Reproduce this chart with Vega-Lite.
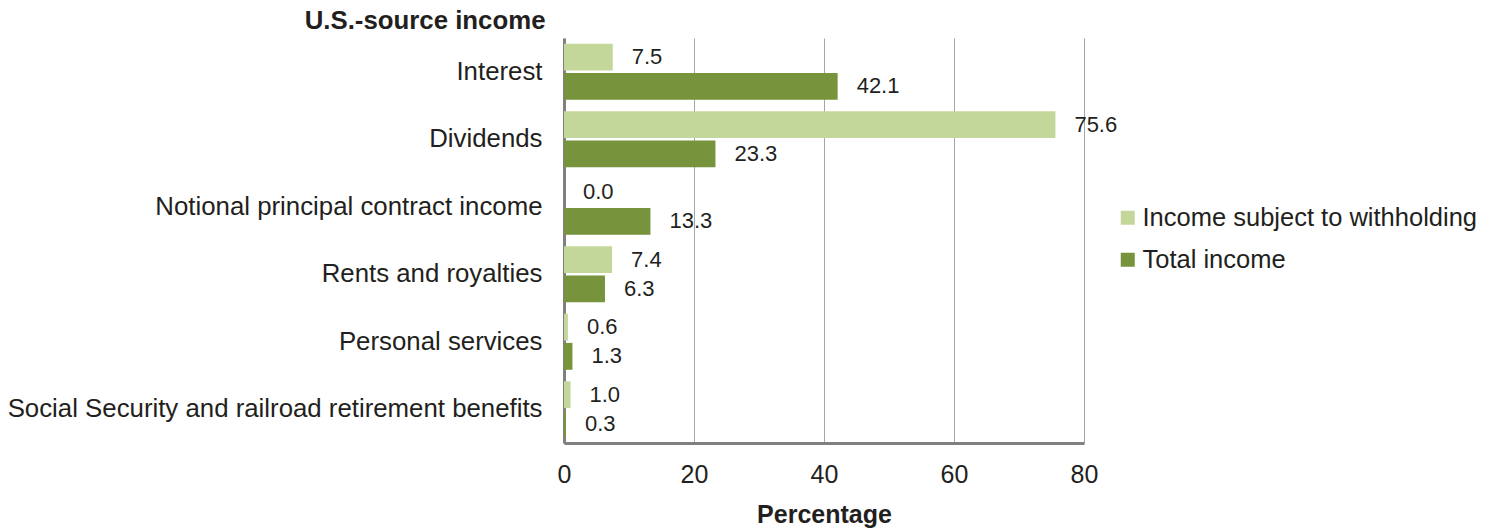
{
  "$schema": "https://vega.github.io/schema/vega-lite/v6.json",
  "width": 520,
  "height": 405,
  "autosize": "none",
  "padding": {"left": 564, "top": 38, "right": 409, "bottom": 86},
  "background": "white",
  "config": {
    "font": "Liberation Sans",
    "view": {"stroke": null}
  },
  "data": {
    "values": [
      {"category": "Interest", "series": "Income subject to withholding", "value": 7.5},
      {"category": "Interest", "series": "Total income", "value": 42.1},
      {"category": "Dividends", "series": "Income subject to withholding", "value": 75.6},
      {"category": "Dividends", "series": "Total income", "value": 23.3},
      {"category": "Notional principal contract income", "series": "Income subject to withholding", "value": 0.0},
      {"category": "Notional principal contract income", "series": "Total income", "value": 13.3},
      {"category": "Rents and royalties", "series": "Income subject to withholding", "value": 7.4},
      {"category": "Rents and royalties", "series": "Total income", "value": 6.3},
      {"category": "Personal services", "series": "Income subject to withholding", "value": 0.6},
      {"category": "Personal services", "series": "Total income", "value": 1.3},
      {"category": "Social Security and railroad retirement benefits", "series": "Income subject to withholding", "value": 1.0},
      {"category": "Social Security and railroad retirement benefits", "series": "Total income", "value": 0.3}
    ]
  },
  "encoding": {
    "y": {
      "field": "category",
      "type": "nominal",
      "sort": null,
      "scale": {"paddingInner": 0.17, "paddingOuter": 0.085},
      "axis": {
        "title": "U.S.-source income",
        "titleAngle": 0,
        "titleAlign": "right",
        "titleBaseline": "middle",
        "titleX": -19,
        "titleY": -18,
        "titleFontSize": 25.8,
        "titleFontWeight": "bold",
        "titleColor": "#231f20",
        "labelFontSize": 25.8,
        "labelColor": "#231f20",
        "labelPadding": 22,
        "labelLimit": 700,
        "ticks": false,
        "domainColor": "#808080",
        "domainWidth": 3
      }
    },
    "yOffset": {
      "field": "series",
      "type": "nominal",
      "scale": {"paddingInner": 0.08}
    },
    "x": {
      "field": "value",
      "type": "quantitative",
      "scale": {"domain": [0, 80]},
      "axis": {
        "title": "Percentage",
        "values": [0, 20, 40, 60, 80],
        "titleFontSize": 25,
        "titleFontWeight": "bold",
        "titleColor": "#231f20",
        "titleBaseline": "alphabetic",
        "titleY": 79,
        "labelFontSize": 25,
        "labelColor": "#231f20",
        "labelPadding": 19,
        "labelFlush": false,
        "ticks": false,
        "grid": true,
        "gridColor": "#a6a6a6",
        "gridWidth": 1,
        "domainColor": "#808080",
        "domainWidth": 3
      }
    }
  },
  "layer": [
    {
      "mark": {"type": "bar"},
      "encoding": {
        "color": {
          "field": "series",
          "type": "nominal",
          "scale": {"domain": ["Income subject to withholding", "Total income"], "range": ["#c4d79b", "#77933c"]},
          "legend": {
            "title": null,
            "orient": "none",
            "legendX": 551,
            "legendY": 167,
            "symbolType": "square",
            "symbolSize": 196,
            "labelFontSize": 25.5,
            "labelColor": "#231f20",
            "labelLimit": 500,
            "rowPadding": 15,
            "labelOffset": 2
          }
        }
      }
    },
    {
      "mark": {"type": "text", "align": "left", "baseline": "middle", "dx": 19, "fontSize": 22, "color": "#231f20"},
      "encoding": {
        "text": {"field": "value", "type": "quantitative", "format": ".1f"}
      }
    }
  ]
}
